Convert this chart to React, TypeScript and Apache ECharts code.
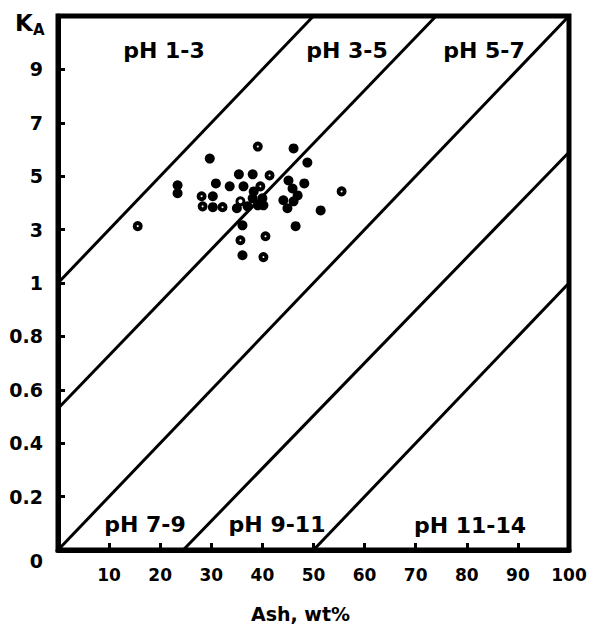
import React, { useEffect, useRef } from "react";
import * as echarts from "echarts";

// y axis tick labels (piecewise K_A scale: 0..1 by 0.2, then 1..11 by 2)
const yTickLabels = ["0", "0.2", "0.4", "0.6", "0.8", "1", "3", "5", "7", "9", ""];

// solid points
const ashFilled = [23.4, 23.4, 29.7, 30.9, 33.6, 30.3, 30.3, 35.0, 46.1, 48.8, 35.4, 38.1, 36.3, 45.1, 48.2, 45.9, 46.9, 38.1, 40.0, 37.1, 39.1, 40.2, 44.1, 44.9, 46.1, 51.4, 36.1, 46.5, 36.1, 38.3];
const kaFilled = [4.66, 4.36, 5.66, 4.73, 4.62, 4.25, 3.84, 3.8, 6.04, 5.51, 5.07, 5.07, 4.62, 4.84, 4.73, 4.54, 4.28, 4.17, 4.17, 3.87, 3.91, 3.91, 4.1, 3.8, 4.06, 3.72, 3.16, 3.13, 2.04, 4.43];

// points with a small white centre
const ashRing = [15.6, 39.1, 41.4, 28.1, 28.3, 32.2, 39.6, 35.7, 40.6, 40.2, 55.5];
const kaRing = [3.13, 6.11, 5.03, 4.25, 3.87, 3.84, 4.62, 2.6, 2.75, 1.97, 4.43];

// open point
const ashHollow = [35.7];
const kaHollow = [4.06];

// pH boundary lines: [start, end] in (Ash, K_A)
const boundaryAsh = [[0, 50], [0, 74], [0, 100], [24.5, 100], [50, 100]];
const boundaryKa = [[1, 11], [0.53, 11], [0, 11], [0, 5.9], [0, 1]];

// zone labels
const zoneLabels = ["pH 1-3", "pH 3-5", "pH 5-7", "pH 7-9", "pH 9-11", "pH 11-14"];

function toAxis(k: number): number {
  return k <= 1 ? k / 0.2 : 5 + (k - 1) / 2;
}

const FONT = "DejaVu Sans";

export default function App() {
  const ref = useRef<HTMLDivElement>(null);
  useEffect(() => {
    document.body.style.margin = "0";
    if (!ref.current) return;
    const chart = echarts.init(ref.current, null, { renderer: "svg" });

    const lineSeries = boundaryAsh.map((xs, i) => ({
      type: "line",
      data: [
        [xs[0], toAxis(boundaryKa[i][0])],
        [xs[1], toAxis(boundaryKa[i][1])],
      ],
      symbol: "none",
      silent: true,
      lineStyle: { color: "#000", width: 3 },
      z: 2,
    }));

    const zonePos = [
      [164, 50],
      [347, 50],
      [484, 50],
      [145, 524],
      [277, 524],
      [470, 525],
    ];

    const option: any = {
      animation: false,
      backgroundColor: "#fff",
      grid: {
        left: 58,
        right: 27,
        top: 16,
        bottom: 72,
        show: true,
        borderColor: "#000",
        borderWidth: 5,
        backgroundColor: "transparent",
      },
      xAxis: {
        type: "value",
        min: 0,
        max: 100,
        interval: 10,
        splitLine: { show: false },
        axisLine: { show: true, lineStyle: { color: "#000", width: 5 } },
        axisTick: { show: true, inside: true, length: 7, lineStyle: { color: "#000", width: 3 } },
        axisLabel: {
          margin: 16,
          color: "#000",
          fontFamily: FONT,
          fontWeight: "bold",
          fontSize: 17,
          formatter: (v: number) => (v === 0 ? "" : String(v)),
        },
        name: "Ash, wt%",
        nameLocation: "middle",
        nameGap: 54,
        nameTextStyle: {
          color: "#000",
          fontFamily: FONT,
          fontWeight: "bold",
          fontSize: 19,
          padding: [0, 26, 0, 0],
        },
      },
      yAxis: {
        type: "value",
        min: 0,
        max: 10,
        interval: 1,
        splitLine: { show: false },
        axisLine: { show: true, lineStyle: { color: "#000", width: 5 } },
        axisTick: { show: true, inside: true, length: 7, lineStyle: { color: "#000", width: 3 } },
        axisLabel: {
          margin: 15,
          color: "#000",
          fontFamily: FONT,
          fontWeight: "bold",
          fontSize: 19,
          formatter: (v: number) => {
            const i = Math.round(v);
            if (i === 0) return "{z|0}";
            return yTickLabels[i] ?? "";
          },
          rich: {
            z: {
              color: "#000",
              fontFamily: FONT,
              fontWeight: "bold",
              fontSize: 19,
              padding: [22, 0, 0, 0],
            },
          },
        },
      },
      graphic: [
        {
          type: "text",
          x: 15,
          y: 11,
          style: { text: "K", fill: "#000", fontFamily: FONT, fontWeight: "bold", fontSize: 23 },
        },
        {
          type: "text",
          x: 33,
          y: 22,
          style: { text: "A", fill: "#000", fontFamily: FONT, fontWeight: "bold", fontSize: 15 },
        },
        ...zoneLabels.map((t, i) => ({
          type: "text",
          x: zonePos[i][0],
          y: zonePos[i][1],
          style: {
            text: t,
            fill: "#000",
            fontFamily: FONT,
            fontWeight: "bold",
            fontSize: 22,
            align: "center",
            verticalAlign: "middle",
          },
        })),
      ],
      series: [
        ...lineSeries,
        {
          type: "scatter",
          data: ashFilled.map((x, i) => [x, toAxis(kaFilled[i])]),
          symbol: "circle",
          symbolSize: 10,
          itemStyle: { color: "#000", opacity: 1 },
          z: 3,
        },
        {
          type: "scatter",
          data: ashRing.map((x, i) => [x, toAxis(kaRing[i])]),
          symbol: "circle",
          symbolSize: 6,
          itemStyle: { color: "#fff", borderColor: "#000", borderWidth: 4, opacity: 1 },
          z: 3,
        },
        {
          type: "scatter",
          data: ashHollow.map((x, i) => [x, toAxis(kaHollow[i])]),
          symbol: "circle",
          symbolSize: 7,
          itemStyle: { color: "#fff", borderColor: "#000", borderWidth: 3, opacity: 1 },
          z: 4,
        },
      ],
    };
    chart.setOption(option);
    return () => chart.dispose();
  }, []);
  return <div ref={ref} style={{ width: 596, height: 628 }} />;
}
